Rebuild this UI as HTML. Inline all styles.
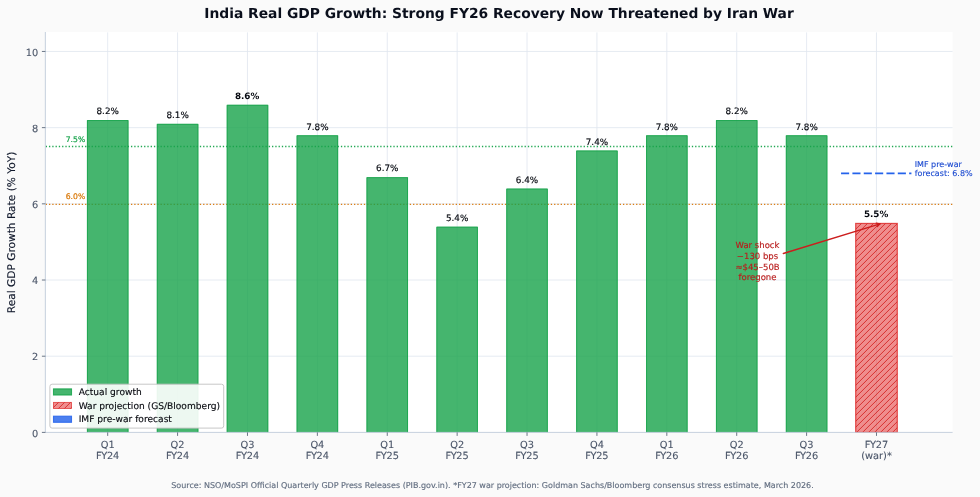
<!DOCTYPE html>
<html lang="en"><head><meta charset="utf-8"><title>India Real GDP Growth</title>
<style>html,body{margin:0;padding:0;background:#fafafa;}body{width:980px;height:497px;overflow:hidden;}svg{display:block;font-family:"DejaVu Sans","Liberation Sans",sans-serif;}text{text-rendering:geometricPrecision;fill:currentColor;stroke:currentColor;stroke-linejoin:round;}svg{stroke-width:0px;}</style></head><body>
<svg width="980" height="497" viewBox="0 0 980 497">
<defs>
<pattern id="hatch" patternUnits="userSpaceOnUse" width="6" height="6" x="4.9" y="0"><path d="M-1,7 L7,-1 M-1,1 L1,-1 M5,7 L7,5" stroke="#d21f1f" stroke-width="1" stroke-opacity="0.85" fill="none"/></pattern>
</defs>
<rect x="0" y="0" width="980" height="497" fill="#fafafa"/>
<rect x="45.3" y="32" width="907.3" height="400.4" fill="#ffffff"/>
<g stroke="#e0e6ef" stroke-width="0.8" fill="none">
<line x1="107.7" y1="32.4" x2="107.7" y2="432.4"/>
<line x1="177.59" y1="32.4" x2="177.59" y2="432.4"/>
<line x1="247.48" y1="32.4" x2="247.48" y2="432.4"/>
<line x1="317.37" y1="32.4" x2="317.37" y2="432.4"/>
<line x1="387.26" y1="32.4" x2="387.26" y2="432.4"/>
<line x1="457.15" y1="32.4" x2="457.15" y2="432.4"/>
<line x1="527.04" y1="32.4" x2="527.04" y2="432.4"/>
<line x1="596.93" y1="32.4" x2="596.93" y2="432.4"/>
<line x1="666.82" y1="32.4" x2="666.82" y2="432.4"/>
<line x1="736.71" y1="32.4" x2="736.71" y2="432.4"/>
<line x1="806.6" y1="32.4" x2="806.6" y2="432.4"/>
<line x1="876.49" y1="32.4" x2="876.49" y2="432.4"/>
<line x1="45.4" y1="356.21" x2="952.6" y2="356.21"/>
<line x1="45.4" y1="280.02" x2="952.6" y2="280.02"/>
<line x1="45.4" y1="203.83" x2="952.6" y2="203.83"/>
<line x1="45.4" y1="127.64" x2="952.6" y2="127.64"/>
<line x1="45.4" y1="51.45" x2="952.6" y2="51.45"/>
</g>
<line x1="45.7" y1="146.5" x2="952.6" y2="146.5" stroke="#16a34a" stroke-width="1.3" stroke-dasharray="1.3 1.98" stroke-opacity="0.95"/>
<line x1="45.7" y1="204.4" x2="952.6" y2="204.4" stroke="#d97706" stroke-width="1.3" stroke-dasharray="1.3 1.98" stroke-opacity="0.95"/>
<g fill="#16a34a" fill-opacity="0.8">
<rect x="86.93" y="120.02" width="41.55" height="312.38"/>
<rect x="156.81" y="123.83" width="41.55" height="308.57"/>
<rect x="226.71" y="104.78" width="41.55" height="327.62"/>
<rect x="296.6" y="135.26" width="41.55" height="297.14"/>
<rect x="366.49" y="177.16" width="41.55" height="255.24"/>
<rect x="436.38" y="226.69" width="41.55" height="205.71"/>
<rect x="506.27" y="188.59" width="41.55" height="243.81"/>
<rect x="576.16" y="150.5" width="41.55" height="281.9"/>
<rect x="646.05" y="135.26" width="41.55" height="297.14"/>
<rect x="715.94" y="120.02" width="41.55" height="312.38"/>
<rect x="785.83" y="135.26" width="41.55" height="297.14"/>
</g>
<g fill="none" stroke="#16a34a" stroke-opacity="0.75" stroke-width="1">
<path d="M87.43,432.4 L87.43,120.52 L127.97,120.52 L127.97,432.4"/>
<path d="M157.31,432.4 L157.31,124.33 L197.87,124.33 L197.87,432.4"/>
<path d="M227.21,432.4 L227.21,105.28 L267.75,105.28 L267.75,432.4"/>
<path d="M297.1,432.4 L297.1,135.76 L337.64,135.76 L337.64,432.4"/>
<path d="M366.99,432.4 L366.99,177.66 L407.53,177.66 L407.53,432.4"/>
<path d="M436.88,432.4 L436.88,227.19 L477.42,227.19 L477.42,432.4"/>
<path d="M506.77,432.4 L506.77,189.09 L547.32,189.09 L547.32,432.4"/>
<path d="M576.66,432.4 L576.66,151 L617.21,151 L617.21,432.4"/>
<path d="M646.55,432.4 L646.55,135.76 L687.1,135.76 L687.1,432.4"/>
<path d="M716.44,432.4 L716.44,120.52 L756.99,120.52 L756.99,432.4"/>
<path d="M786.33,432.4 L786.33,135.76 L826.88,135.76 L826.88,432.4"/>
</g>
<rect x="855.72" y="223.43" width="41.55" height="208.97" fill="#e43c3c" fill-opacity="0.58"/>
<rect x="855.72" y="223.43" width="41.55" height="208.97" fill="url(#hatch)"/>
<rect x="855.72" y="223.43" width="41.55" height="208.97" fill="none" stroke="#dc2626" stroke-opacity="0.8" stroke-width="1.2"/>
<line x1="841.05" y1="173.35" x2="911.44" y2="173.35" stroke="#2563eb" stroke-width="1.85" stroke-dasharray="8.1 3.25"/>
<g stroke="#c3cddb" stroke-width="0.95" fill="none">
<line x1="45.35" y1="32" x2="45.35" y2="432.8"/>
<line x1="45.4" y1="432.4" x2="952.6" y2="432.4"/>
</g>
<g stroke="#475569" stroke-width="0.8" fill="none">
<line x1="107.7" y1="432.4" x2="107.7" y2="435.9"/>
<line x1="177.59" y1="432.4" x2="177.59" y2="435.9"/>
<line x1="247.48" y1="432.4" x2="247.48" y2="435.9"/>
<line x1="317.37" y1="432.4" x2="317.37" y2="435.9"/>
<line x1="387.26" y1="432.4" x2="387.26" y2="435.9"/>
<line x1="457.15" y1="432.4" x2="457.15" y2="435.9"/>
<line x1="527.04" y1="432.4" x2="527.04" y2="435.9"/>
<line x1="596.93" y1="432.4" x2="596.93" y2="435.9"/>
<line x1="666.82" y1="432.4" x2="666.82" y2="435.9"/>
<line x1="736.71" y1="432.4" x2="736.71" y2="435.9"/>
<line x1="806.6" y1="432.4" x2="806.6" y2="435.9"/>
<line x1="876.49" y1="432.4" x2="876.49" y2="435.9"/>
<line x1="41.9" y1="432.4" x2="45.4" y2="432.4"/>
<line x1="41.9" y1="356.21" x2="45.4" y2="356.21"/>
<line x1="41.9" y1="280.02" x2="45.4" y2="280.02"/>
<line x1="41.9" y1="203.83" x2="45.4" y2="203.83"/>
<line x1="41.9" y1="127.64" x2="45.4" y2="127.64"/>
<line x1="41.9" y1="51.45" x2="45.4" y2="51.45"/>
</g>
<g color="#4a5568" font-size="9.8" text-anchor="middle" stroke-width="0.12">
<text x="107.7" y="448">Q1</text>
<text x="107.7" y="459">F<tspan dx="-0.45">Y</tspan><tspan dx="-0.3">24</tspan></text>
<text x="177.59" y="448">Q2</text>
<text x="177.59" y="459">F<tspan dx="-0.45">Y</tspan><tspan dx="-0.3">24</tspan></text>
<text x="247.48" y="448">Q3</text>
<text x="247.48" y="459">F<tspan dx="-0.45">Y</tspan><tspan dx="-0.3">24</tspan></text>
<text x="317.37" y="448">Q4</text>
<text x="317.37" y="459">F<tspan dx="-0.45">Y</tspan><tspan dx="-0.3">24</tspan></text>
<text x="387.26" y="448">Q1</text>
<text x="387.26" y="459">F<tspan dx="-0.45">Y</tspan><tspan dx="-0.3">25</tspan></text>
<text x="457.15" y="448">Q2</text>
<text x="457.15" y="459">F<tspan dx="-0.45">Y</tspan><tspan dx="-0.3">25</tspan></text>
<text x="527.04" y="448">Q3</text>
<text x="527.04" y="459">F<tspan dx="-0.45">Y</tspan><tspan dx="-0.3">25</tspan></text>
<text x="596.93" y="448">Q4</text>
<text x="596.93" y="459">F<tspan dx="-0.45">Y</tspan><tspan dx="-0.3">25</tspan></text>
<text x="666.82" y="448">Q1</text>
<text x="666.82" y="459">F<tspan dx="-0.45">Y</tspan><tspan dx="-0.3">26</tspan></text>
<text x="736.71" y="448">Q2</text>
<text x="736.71" y="459">F<tspan dx="-0.45">Y</tspan><tspan dx="-0.3">26</tspan></text>
<text x="806.6" y="448">Q3</text>
<text x="806.6" y="459">F<tspan dx="-0.45">Y</tspan><tspan dx="-0.3">26</tspan></text>
<text x="876.49" y="448">F<tspan dx="-0.45">Y</tspan><tspan dx="-0.3">27</tspan></text>
<text x="876.49" y="459">(war)*</text>
</g>
<g color="#4a5568" font-size="9.8" text-anchor="end" stroke-width="0.12">
<text x="38.2" y="436.5">0</text>
<text x="38.2" y="360.31">2</text>
<text x="38.2" y="284.12">4</text>
<text x="38.2" y="207.93">6</text>
<text x="38.2" y="131.74">8</text>
<text x="38.2" y="55.55">10</text>
</g>
<text transform="translate(15.2 232.4) rotate(-90)" text-anchor="middle" font-size="10.62" stroke-width="0.12" color="#0f172a">Real GDP Growth Rate (% YoY)</text>
<text x="499" y="17.6" text-anchor="middle" font-size="13.83" font-weight="bold" color="#0a0f1c">India Real GDP Growth: Strong FY26 Recovery Now Threatened by Iran War</text>
<g color="#05080f" font-size="8.8" text-anchor="middle" stroke-width="0.15">
<text x="107.7" y="114.32">8.2%</text>
<text x="177.59" y="118.13">8.1%</text>
<text x="247.08" y="99.08" font-weight="bold" stroke-width="0">8.6%</text>
<text x="317.37" y="129.56">7.8%</text>
<text x="387.26" y="171.46">6.7%</text>
<text x="457.15" y="220.99">5.4%</text>
<text x="527.04" y="182.89">6.4%</text>
<text x="596.93" y="144.8">7.4%</text>
<text x="666.82" y="129.56">7.8%</text>
<text x="736.71" y="114.32">8.2%</text>
<text x="806.6" y="129.56">7.8%</text>
<text x="876.09" y="217.18" font-weight="bold" stroke-width="0">5.5%</text>
</g>
<text x="85.2" y="142.4" text-anchor="end" font-size="7.7" color="#16a34a" stroke-width="0.2">7.5%</text>
<text x="85.2" y="199.4" text-anchor="end" font-size="7.7" color="#d97706" stroke-width="0.2">6.0%</text>
<g color="#1a49d0" font-size="8" stroke-width="0.12"><text x="914.7" y="166.9">IMF pre-war</text><text x="914.7" y="175.9">forecast: 6.8%</text></g>
<g color="#b91c1c" font-size="8.5" text-anchor="middle" stroke-width="0.15">
<text x="757.5" y="248.3">War shock</text>
<text x="757.5" y="259">−130 bps</text>
<text x="757.5" y="269.8">≈$45–50B</text>
<text x="757.5" y="280.4">foregone</text>
</g>
<g stroke="#cc1d1d" stroke-width="1.35" fill="none" stroke-linecap="round" stroke-linejoin="round"><path d="M783.3,253.5 L880,223.8"/><path d="M876.2,223.1 L880,223.8 L877.3,226.5"/></g>
<rect x="49.9" y="384.2" width="173.8" height="43.9" rx="2.2" ry="2.2" fill="#ffffff" fill-opacity="0.9" stroke="#c4c4c4" stroke-opacity="0.95" stroke-width="1"/>
<rect x="53.5" y="388.9" width="18" height="6.1" fill="#16a34a" fill-opacity="0.8" stroke="#16a34a" stroke-opacity="0.85" stroke-width="1.1"/>
<rect x="53.5" y="402.4" width="18" height="6.1" fill="#e43c3c" fill-opacity="0.58"/>
<rect x="53.5" y="402.4" width="18" height="6.1" fill="url(#hatch)"/>
<rect x="53.5" y="402.4" width="18" height="6.1" fill="none" stroke="#dc2626" stroke-opacity="0.75" stroke-width="0.9"/>
<rect x="53.5" y="416.2" width="18" height="6.1" fill="#2563eb" fill-opacity="0.82" stroke="#2563eb" stroke-opacity="0.85" stroke-width="1.1"/>
<g color="#05070d" font-size="9.1" stroke-width="0.12">
<text x="78.7" y="395.1">Actual growth</text>
<text x="78.7" y="408.6">War projection (GS/Bloomberg)</text>
<text x="78.7" y="422.4">IMF pre-war forecast</text>
</g>
<text x="492.5" y="488.3" text-anchor="middle" font-size="8" stroke-width="0.12" color="#5f6b7e">Source: NSO/MoSPI Official Quarterly GDP Press Releases (PIB.gov.in). *FY27 war projection: Goldman Sachs/Bloomberg consensus stress estimate, March 2026.</text>
</svg></body></html>
